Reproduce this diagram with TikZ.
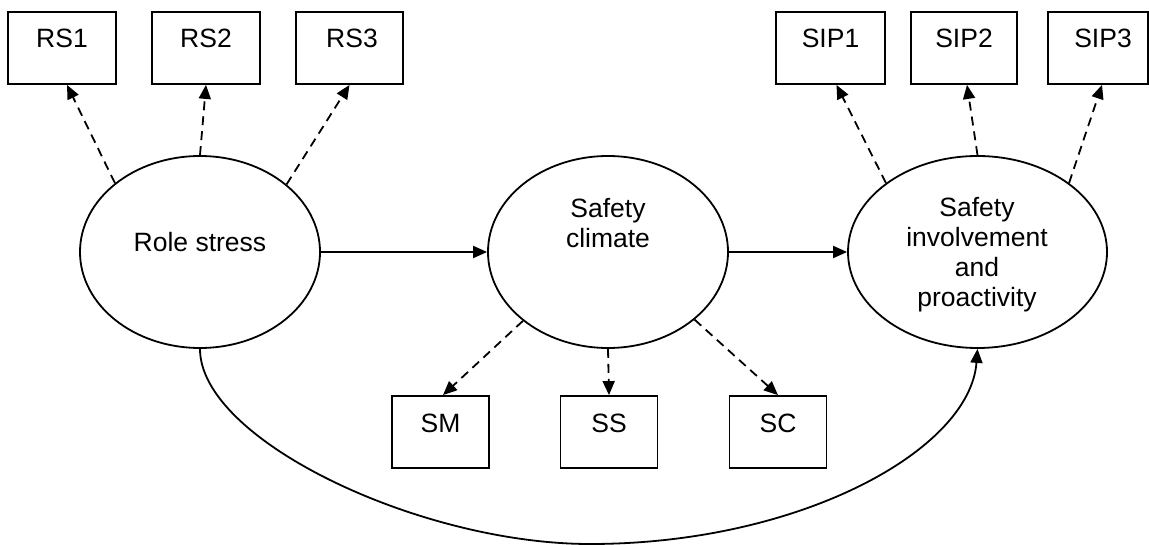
\documentclass[tikz,border=0pt]{standalone}
\usepackage{fontspec}
\setmainfont{Liberation Sans}
\usetikzlibrary{arrows.meta,shapes.geometric}
\begin{document}
\begin{tikzpicture}[x=1pt,y=-1pt,
  every node/.style={font=\fontsize{26.5}{30}\selectfont},
  lw/.style={line width=1.8pt},
  box/.style={draw,lw,rectangle,inner sep=0pt,minimum height=72pt,text height=10pt,text depth=10pt},
  latent/.style={draw,lw,ellipse,inner sep=0pt,minimum height=192pt},
  arr/.style={lw,-{Triangle[length=14pt,width=12pt]}},
  darr/.style={arr,dash pattern=on 9pt off 6pt},
]
\useasboundingbox (0,0) rectangle (1149,545);
% indicator boxes
\node[box,minimum width=108pt] (rs1) at (62,48) {RS1\hspace{18pt}};
\node[box,minimum width=108pt] (rs2) at (206,48) {RS2};
\node[box,minimum width=107pt] (rs3) at (349.5,48) {\hspace{5pt}RS3};
\node[box,minimum width=109pt] (sip1) at (830.5,48) {SIP1};
\node[box,minimum width=106pt] (sip2) at (964,48) {SIP2\hspace{8pt}};
\node[box,minimum width=100pt] (sip3) at (1098,48) {\hspace{10pt}SIP3};
\node[box,minimum width=97pt] (sm) at (440.5,432) {SM\hspace{17pt}};
\node[box,minimum width=97pt] (ss) at (609,432) {SS};
\node[box,minimum width=97pt] (scx) at (778,432) {SC};
% latent variables
\node[latent,minimum width=240pt,text height=10pt,text depth=10pt] (rs) at (200,252) {Role stress};
\node[latent,minimum width=240pt] (sc) at (608,252) {};
\node[latent,minimum width=259pt] (sip) at (977.5,252) {};
\node[align=center,anchor=base] (sctext) at (608,248) {Safety\\climate};
\node[align=center,anchor=base] (siptext) at (977,307) {Safety\\involvement\\and\\proactivity};
% structural paths
\draw[arr] (rs) -- (sc);
\draw[arr] (sc) -- (sip);
% loadings
\draw[darr] (rs.141.3) -- ([xshift=5pt]rs1.south);
\draw[darr] (rs.north) -- (rs2.south);
\draw[darr] (rs.38.4) -- (rs3.south);
\draw[darr] (sc.-141.3) -- ([xshift=2.5pt]sm.north);
\draw[darr] (sc.south) -- (ss.north);
\draw[darr] (sc.-38.4) -- (scx.north);
\draw[darr] (sip.143) -- ([xshift=6pt]sip1.south);
\draw[darr] (sip.north) -- ([xshift=3pt]sip2.south);
\draw[darr] (sip.37.3) -- ([xshift=4pt]sip3.south);
% direct path
\coordinate (low) at (590,544);
\draw[arr] (rs.south) .. controls (200,440) and (420,544) .. (low) .. controls (800,544) and (970,450) .. (sip.south);
\end{tikzpicture}
\end{document}
